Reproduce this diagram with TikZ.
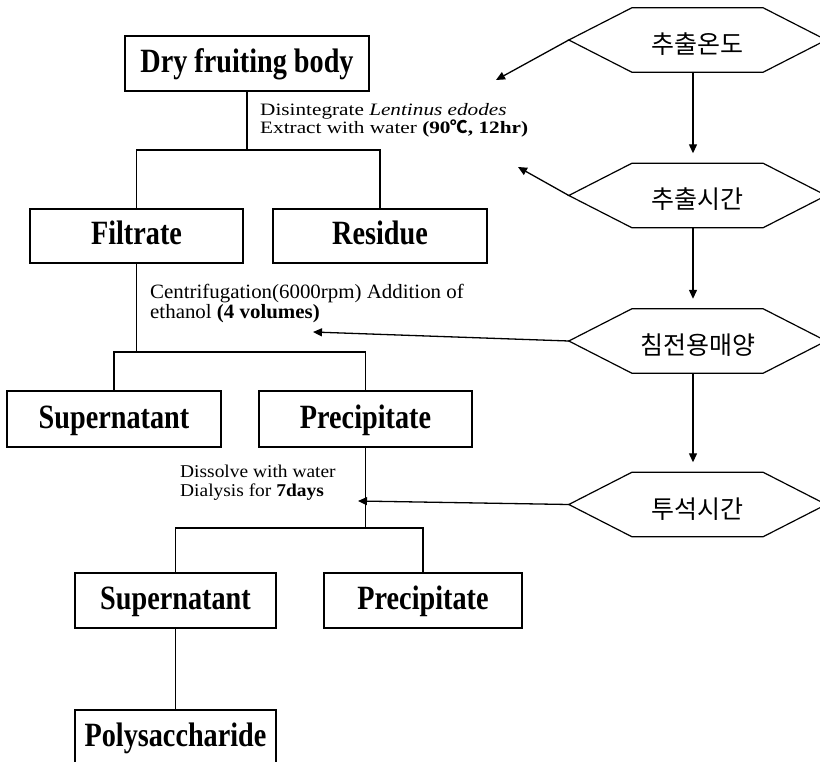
\documentclass[tikz,border=0pt]{standalone}
\usepackage{fontspec}
\setmainfont{Liberation Serif}
\newfontfamily\boxfont[FakeStretch=0.83]{Liberation Serif}
\newfontfamily\lblAfont[FakeStretch=1.22]{Liberation Serif}
\newfontfamily\lblBfont[FakeStretch=1.03]{Liberation Serif}
\newfontfamily\lblCfont[FakeStretch=1.08]{Liberation Serif}
\newfontfamily\cjk{Noto Sans CJK KR}
\usetikzlibrary{arrows.meta}
\tikzset{
  boxn/.style={draw, line width=1.2pt, inner sep=0pt,
    font=\boxfont\bfseries\fontsize{34}{34}\selectfont,
    text height=22pt, text depth=4pt, minimum height=55pt},
  hexn/.style={inner sep=0pt, minimum width=131pt, minimum height=64pt,
    font=\cjk\fontsize{25}{25}\selectfont, text height=27pt, text depth=0pt},
  hexline/.style={line width=1.2pt, line join=miter},
  tree/.style={line width=1.2pt},
  arr/.style={line width=1.3pt, -{Triangle[length=9pt,width=8pt]}},
  lbla/.style={anchor=base west, inner sep=0pt, font=\lblAfont\fontsize{17.4}{17.4}\selectfont},
  lblb/.style={anchor=base west, inner sep=0pt, font=\lblBfont\fontsize{20.3}{20.3}\selectfont},
  lblc/.style={anchor=base west, inner sep=0pt, font=\lblCfont\fontsize{18}{18}\selectfont},
}
\begin{document}
\begin{tikzpicture}[x=1pt,y=-1pt]
\useasboundingbox (0,0) rectangle (820,762);
\clip (0,0) rectangle (820,762);

% boxes
\node[boxn, minimum width=244pt] (dry) at (247,63.5) {Dry fruiting body};
\node[boxn, minimum width=213pt, minimum height=54pt] (filt) at (136.5,236) {Filtrate};
\node[boxn, minimum width=214pt, minimum height=54pt] (res) at (380,236) {Residue};
\node[boxn, minimum width=214pt, minimum height=56pt] (sup1) at (114,419) {Supernatant};
\node[boxn, minimum width=213pt, minimum height=56pt] (pre1) at (365.5,419) {Precipitate};
\node[boxn, minimum width=201pt] (sup2) at (175.5,600.5) {Supernatant};
\node[boxn, minimum width=198pt] (pre2) at (423,600.5) {Precipitate};
\node[boxn, minimum width=201pt] (poly) at (175.5,737.5) {Polysaccharide};

% tree connectors
\coordinate (j1) at (247,150);
\coordinate (j2) at (136.5,352);
\coordinate (j3) at (365.5,528);
\draw[tree] (dry.south) -- (j1);
\draw[tree] (filt.north) |- (j1) -| (res.north);
\draw[tree] (filt.south) -- (j2);
\draw[tree] (sup1.north) |- (j2) -| (pre1.north);
\draw[tree] (pre1.south) -- (j3);
\draw[tree] (sup2.north) |- (j3) -| (pre2.north);
\draw[tree] (sup2.south) -- (poly.north);

% labels
\node[lbla] (la1) at (260,115.5) {Disintegrate \textit{Lentinus edodes}};
\node[lbla] (la2) at (260,134) {Extract with water \textbf{(90{\cjk ℃}, 12hr)}};
\node[lblb] (lb1) at (150,298.5) {Centrifugation(6000rpm) Addition of};
\node[lblb] (lb2) at (150,318.5) {ethanol \textbf{(4 volumes)}};
\node[lblc] (lc1) at (180,477) {Dissolve with water};
\node[lblc] (lc2) at (180,496) {Dialysis for \textbf{7days}};

% hexagons
\node[hexn] (h1) at (697.5,40) {추출온도};
\node[hexn] (h2) at (697.5,195.5) {추출시간};
\node[hexn] (h3) at (697.5,341) {침전용매양};
\node[hexn] (h4) at (697.5,504.5) {투석시간};
\foreach \h in {h1,h2,h3,h4}{
  \draw[hexline] (\h.north west) -- (\h.north east) -- ([xshift=63pt]\h.east)
    -- (\h.south east) -- (\h.south west) -- ([xshift=-63pt]\h.west) -- cycle;
}
\coordinate (h1L) at ([xshift=-63pt]h1.west);
\coordinate (h2L) at ([xshift=-63pt]h2.west);
\coordinate (h3L) at ([xshift=-63pt]h3.west);
\coordinate (h4L) at ([xshift=-63pt]h4.west);

% vertical arrows
\draw[arr, shorten >=10pt] ([xshift=-4.5pt]h1.south) -- ([xshift=-4.5pt]h2.north);
\draw[arr, shorten >=10pt] ([xshift=-4.5pt]h2.south) -- ([xshift=-4.5pt]h3.north);
\draw[arr, shorten >=10pt] ([xshift=-4.5pt]h3.south) -- ([xshift=-4.5pt]h4.north);

% diagonal arrows
\coordinate (t1) at (496,80);
\coordinate (t2) at (518,167);
\coordinate (t3) at (313,332);
\coordinate (t4) at (358,501);
\draw[arr] (h1L) -- (t1);
\draw[arr] (h2L) -- (t2);
\draw[arr] (h3L) -- (t3);
\draw[arr] (h4L) -- (t4);
\end{tikzpicture}
\end{document}
